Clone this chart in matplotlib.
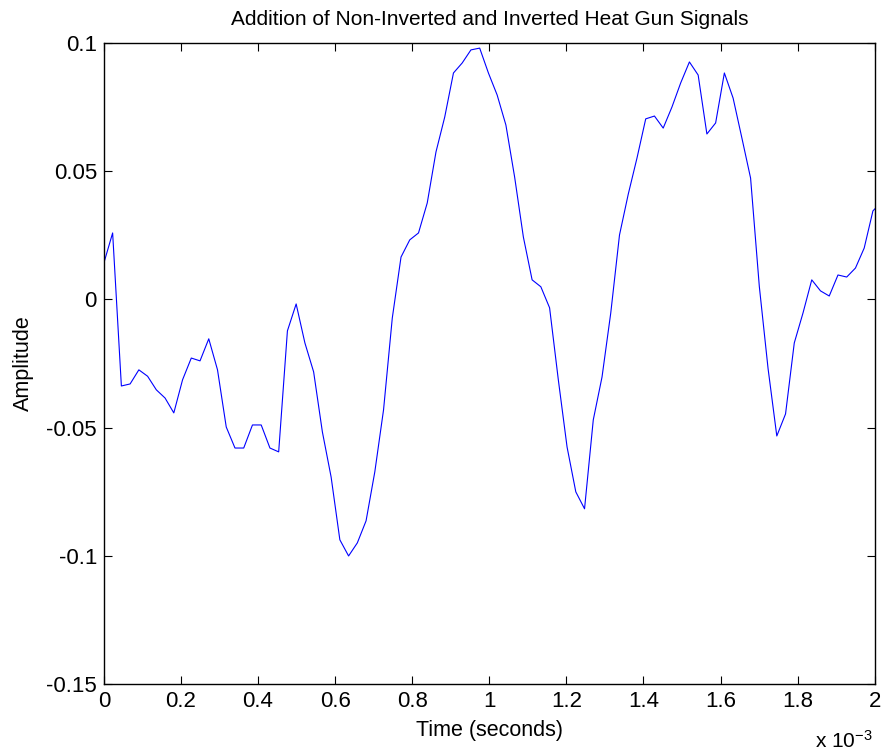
import numpy as np
import matplotlib
matplotlib.use("Agg")
import matplotlib.pyplot as plt

plt.rcParams["font.family"] = ["Liberation Sans", "DejaVu Sans"]
plt.rcParams["mathtext.default"] = "regular"

# sampled signal, 44.1 kHz
fs = 44100
amplitude = [
    0.0142, 0.0259, -0.0338, -0.0330, -0.0275, -0.0300, -0.0353, -0.0385, -0.0443, -0.0314,
    -0.0229, -0.0240, -0.0154, -0.0275, -0.0498, -0.0580, -0.0580, -0.0490, -0.0490, -0.0580,
    -0.0595, -0.0123, -0.0018, -0.0170, -0.0283, -0.0517, -0.0693, -0.0938, -0.1001, -0.0950,
    -0.0864, -0.0673, -0.0431, -0.0073, 0.0165, 0.0232, 0.0259, 0.0376, 0.0575, 0.0711,
    0.0883, 0.0922, 0.0973, 0.0980, 0.0883, 0.0797, 0.0680, 0.0477, 0.0243, 0.0076,
    0.0049, -0.0033, -0.0314, -0.0576, -0.0751, -0.0817, -0.0470, -0.0303, -0.0053, 0.0251,
    0.0410, 0.0551, 0.0704, 0.0715, 0.0668, 0.0750, 0.0844, 0.0926, 0.0875, 0.0645,
    0.0688, 0.0883, 0.0785, 0.0630, 0.0473, 0.0050, -0.0270, -0.0533, -0.0447, -0.0170,
    -0.0053, 0.0076, 0.0033, 0.0013, 0.0095, 0.0087, 0.0122, 0.0200, 0.0345, 0.0380,
]
time = np.arange(len(amplitude)) / fs

xticks = [0, 0.2e-3, 0.4e-3, 0.6e-3, 0.8e-3, 1.0e-3, 1.2e-3, 1.4e-3, 1.6e-3, 1.8e-3, 2.0e-3]
xtick_labels = ["0", "0.2", "0.4", "0.6", "0.8", "1", "1.2", "1.4", "1.6", "1.8", "2"]
yticks = [-0.15, -0.1, -0.05, 0, 0.05, 0.1]
ytick_labels = ["-0.15", "-0.1", "-0.05", "0", "0.05", "0.1"]

fig = plt.figure(figsize=(8.88, 7.54), dpi=100)
ax = fig.add_axes([0.117, 0.093, 0.868, 0.850])

ax.plot(time, amplitude, color="blue", linewidth=0.8)

ax.set_xlim(0, 2e-3)
ax.set_ylim(-0.15, 0.1)
ax.set_xticks(xticks)
ax.set_xticklabels(xtick_labels)
ax.set_yticks(yticks)
ax.set_yticklabels(ytick_labels)
ax.tick_params(direction="in", top=True, right=True, length=6, width=0.8,
               labelsize=16)
ax.tick_params(axis="x", pad=5)
ax.tick_params(axis="y", pad=5)
for s in ax.spines.values():
    s.set_linewidth(1.0)

ax.set_title("Addition of Non-Inverted and Inverted Heat Gun Signals", fontsize=15, pad=13)
ax.set_xlabel("Time (seconds)", fontsize=15.5, labelpad=6)
ax.set_ylabel("Amplitude", fontsize=15.5, labelpad=9)
ax.text(0.997, -0.099, r"x 10$^{-3}$", transform=ax.transAxes, ha="right", va="baseline",
        fontsize=15)

fig.savefig("out.png", dpi=100)
